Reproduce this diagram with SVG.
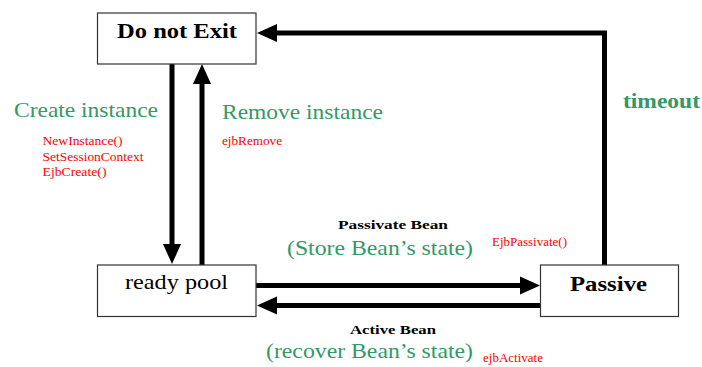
<svg xmlns="http://www.w3.org/2000/svg" width="702" height="367" viewBox="0 0 702 367">
  <style>
    text { font-family: 'Liberation Serif', 'DejaVu Serif', 'Noto Serif', serif; }
    .box { fill: #ffffff; stroke: #333333; stroke-width: 1.2; }
    .conn { fill: none; stroke: #000000; stroke-width: 5; stroke-linejoin: miter; }
    .title { font-weight: bold; font-size: 22px; fill: #000000; }
    .plain { font-size: 21px; fill: #000000; }
    .green { font-size: 21px; fill: #339966; }
    .greenb { font-weight: bold; font-size: 21px; fill: #339966; }
    .red { font-size: 12px; fill: #ff0000; }
    .lbl { font-weight: bold; font-size: 13px; fill: #000000; }
  </style>
  <defs>
    <marker id="head" markerUnits="userSpaceOnUse" markerWidth="20" markerHeight="18" refX="0" refY="9" orient="auto" overflow="visible">
      <path d="M0,0 L20,9 L0,18 Z" fill="#000000"/>
    </marker>
  </defs>

  <rect width="702" height="367" fill="#ffffff"/>

  <!-- connectors -->
  <g id="connectors">
    <line class="conn" x1="172" y1="64" x2="172" y2="244" marker-end="url(#head)"/>
    <line class="conn" x1="202" y1="265" x2="202" y2="84" marker-end="url(#head)"/>
    <polyline class="conn" points="604.5,265 604.5,33 277,33" marker-end="url(#head)"/>
    <line class="conn" x1="256" y1="285.5" x2="520" y2="285.5" marker-end="url(#head)"/>
    <line class="conn" x1="540" y1="305.5" x2="277" y2="305.5" marker-end="url(#head)"/>
  </g>

  <!-- states -->
  <g id="do-not-exit">
    <rect class="box" x="97.5" y="13" width="158.5" height="51"/>
    <text class="title" x="117" y="38" textLength="120" lengthAdjust="spacingAndGlyphs">Do not Exit</text>
  </g>
  <g id="ready-pool">
    <rect class="box" x="97.5" y="265" width="158.5" height="51.5"/>
    <text class="plain" x="125" y="289" textLength="103" lengthAdjust="spacingAndGlyphs">ready pool</text>
  </g>
  <g id="passive">
    <rect class="box" x="540.5" y="265" width="138" height="51.5"/>
    <text class="title" x="570" y="291" textLength="77" lengthAdjust="spacingAndGlyphs">Passive</text>
  </g>

  <!-- transition labels -->
  <g id="create-label">
    <text class="green" x="14" y="117" textLength="144" lengthAdjust="spacingAndGlyphs">Create instance</text>
    <text class="red" x="42.5" y="145" textLength="80" lengthAdjust="spacingAndGlyphs">NewInstance()</text>
    <text class="red" x="42.5" y="160.5" textLength="101" lengthAdjust="spacingAndGlyphs">SetSessionContext</text>
    <text class="red" x="42.5" y="176" textLength="64" lengthAdjust="spacingAndGlyphs">EjbCreate()</text>
  </g>
  <g id="remove-label">
    <text class="green" x="222" y="119" textLength="161" lengthAdjust="spacingAndGlyphs">Remove instance</text>
    <text class="red" x="222" y="145" textLength="60" lengthAdjust="spacingAndGlyphs">ejbRemove</text>
  </g>
  <g id="timeout-label">
    <text class="greenb" x="623" y="108" textLength="77" lengthAdjust="spacingAndGlyphs">timeout</text>
  </g>
  <g id="passivate-label">
    <text class="lbl" x="338" y="229" textLength="110" lengthAdjust="spacingAndGlyphs">Passivate Bean</text>
    <text class="green" x="287" y="255" textLength="186" lengthAdjust="spacingAndGlyphs">(Store Bean’s state)</text>
    <text class="red" x="492" y="246" textLength="75" lengthAdjust="spacingAndGlyphs">EjbPassivate()</text>
  </g>
  <g id="activate-label">
    <text class="lbl" x="350" y="334" textLength="86" lengthAdjust="spacingAndGlyphs">Active Bean</text>
    <text class="green" x="266" y="358" textLength="207" lengthAdjust="spacingAndGlyphs">(recover Bean’s state)</text>
    <text class="red" x="483" y="362" textLength="60" lengthAdjust="spacingAndGlyphs">ejbActivate</text>
  </g>
</svg>
